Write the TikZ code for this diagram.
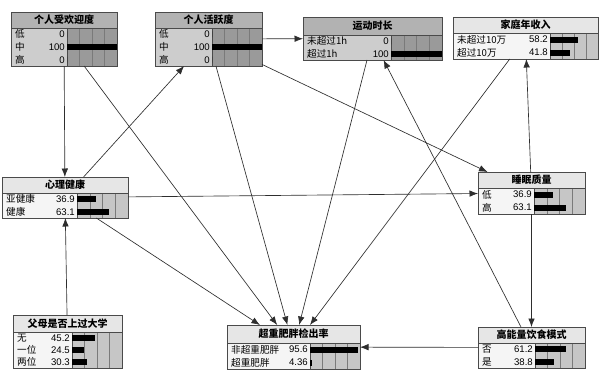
\documentclass[tikz,border=0pt]{standalone}
\usepackage{fontspec}
\setmainfont{Noto Sans CJK SC}
\newfontfamily\numfont{Liberation Sans}
\usetikzlibrary{arrows.meta}
\definecolor{bordc}{HTML}{4A4A4A}
\definecolor{evtitle}{HTML}{B2B2B2}
\definecolor{evbody}{HTML}{CDCDCD}
\definecolor{evbar}{HTML}{9A9A9A}
\definecolor{netitle}{HTML}{E6E6E6}
\definecolor{nebody}{HTML}{F5F5F5}
\definecolor{nebar}{HTML}{C6C6C6}
\definecolor{gridc}{HTML}{7A7A7A}
\definecolor{edgec}{HTML}{2E2E2E}
\tikzset{
  bnframe/.style={draw=bordc, line width=0.8pt, fill=none, inner sep=0pt, outer sep=0pt, anchor=north west},
  ttl/.style={font=\fontsize{10}{10}\selectfont\bfseries, inner sep=0pt},
  rowtxt/.style={font=\fontsize{9.6}{9.6}\selectfont, inner sep=0pt},
  gridline/.style={draw=gridc, line width=0.4pt},
  sepline/.style={draw=bordc, line width=0.6pt},
  edge/.style={draw=edgec, line width=0.65pt, -{Latex[length=8.5pt,width=6.5pt]}}
}
% #1 name, #2 L, #3 T, #4 R, #5 title bottom, #6 B, #7 bar start, #8 title, #9 kind (ev/ne)
\newcommand{\bnbox}[9]{%
  \fill[#9title] (#2,#3) rectangle (#4,#5);
  \fill[#9body] (#2,#5) rectangle (#7,#6);
  \fill[#9bar] (#7,#5) rectangle (#4,#6);
  \foreach \k in {1,2,3}{\draw[gridline] ({#7+\k*(#4-#7)/4},#5) -- ({#7+\k*(#4-#7)/4},#6);}
  \draw[sepline] (#2,#5) -- (#4,#5);
  \draw[sepline] (#7,#5) -- (#7,#6);
  \node[ttl] (#1t) at ({(#2+#4)/2},{(#3+#5)/2}) {#8};
  \node[bnframe, minimum width={(#4-#2)*1pt}, minimum height={(#6-#3)*1pt}] (#1) at (#2,#3) {};
}
% #1 name, #2 L, #3 bar start, #4 R, #5 y, #6 label, #7 value, #8 pct
\newcommand{\bnrow}[8]{%
  \node[rowtxt, anchor=west] (#1a) at ({#2+4},#5) {#6};
  \node[rowtxt, anchor=east] (#1b) at ({#3-2},#5) {\numfont #7};
  \fill[black] (#3,{#5-3}) rectangle ({#3+#8/100*(#4-#3)},{#5+3});
}
\begin{document}
\begin{tikzpicture}[x=1pt,y=-1pt]
\useasboundingbox[fill=white] (0,0) rectangle (601,370);

% 个人受欢迎度
\bnbox{pop}{11}{12}{117}{28}{66}{67}{个人受欢迎度}{ev}
\bnrow{popa}{11}{67}{117}{34.3}{低}{0}{0}
\bnrow{popb}{11}{67}{117}{47}{中}{100}{100}
\bnrow{popc}{11}{67}{117}{59.7}{高}{0}{0}

% 个人活跃度
\bnbox{act}{155}{12}{262}{28}{66}{212}{个人活跃度}{ev}
\bnrow{acta}{155}{212}{262}{34.3}{低}{0}{0}
\bnrow{actb}{155}{212}{262}{47}{中}{100}{100}
\bnrow{actc}{155}{212}{262}{59.7}{高}{0}{0}

% 运动时长
\bnbox{sport}{303}{17}{442}{35}{60}{391}{运动时长}{ev}
\bnrow{sporta}{303}{391}{442}{41.25}{未超过1h}{0}{0}
\bnrow{sportb}{303}{391}{442}{53.75}{超过1h}{100}{100}

% 家庭年收入
\bnbox{income}{453}{17}{598}{33}{59}{550}{家庭年收入}{ne}
\bnrow{incomea}{453}{550}{598}{39.5}{未超过10万}{58.2}{58.2}
\bnrow{incomeb}{453}{550}{598}{52.5}{超过10万}{41.8}{41.8}

% 心理健康
\bnbox{mental}{2}{177}{128}{193}{218}{77}{心理健康}{ne}
\bnrow{mentala}{2}{77}{128}{199.25}{亚健康}{36.9}{36.9}
\bnrow{mentalb}{2}{77}{128}{211.75}{健康}{63.1}{63.1}

% 睡眠质量
\bnbox{sleep}{478}{172}{585}{188}{214}{534}{睡眠质量}{ne}
\bnrow{sleepa}{478}{534}{585}{194.5}{低}{36.9}{36.9}
\bnrow{sleepb}{478}{534}{585}{207.5}{高}{63.1}{63.1}

% 父母是否上过大学
\bnbox{parent}{13}{315}{122}{332}{368}{72}{父母是否上过大学}{ne}
\bnrow{parenta}{13}{72}{122}{338}{无}{45.2}{45.2}
\bnrow{parentb}{13}{72}{122}{350}{一位}{24.5}{24.5}
\bnrow{parentc}{13}{72}{122}{362}{两位}{30.3}{30.3}

% 超重肥胖检出率
\bnbox{obese}{227}{325}{360}{343}{369}{310}{超重肥胖检出率}{ne}
\bnrow{obesea}{227}{310}{360}{349.5}{非超重肥胖}{95.6}{95.6}
\bnrow{obeseb}{227}{310}{360}{362.5}{超重肥胖}{4.36}{4.36}

% 高能量饮食模式
\bnbox{diet}{478}{327}{585}{343}{368}{535}{高能量饮食模式}{ne}
\bnrow{dieta}{478}{535}{585}{349.25}{否}{61.2}{61.2}
\bnrow{dietb}{478}{535}{585}{361.75}{是}{38.8}{38.8}

% edges
\draw[edge] (pop) -- (mental);
\draw[edge] (pop) -- (obese);
\draw[edge] (act) -- (sport);
\draw[edge] (act) -- (obese);
\draw[edge] (act) -- (sleep);
\draw[edge] (mental) -- (act);
\draw[edge] (mental) -- (sleep);
\draw[edge] (mental) -- (obese);
\draw[edge] (parent) -- (mental);
\draw[edge] (sport) -- (obese);
\draw[edge] (diet) -- (sport);
\draw[edge] (income) -- (obese);
\draw[edge] (sleep) -- (income);
\draw[edge] (sleep) -- (diet);
\draw[edge] (diet) -- (obese);
\end{tikzpicture}
\end{document}
